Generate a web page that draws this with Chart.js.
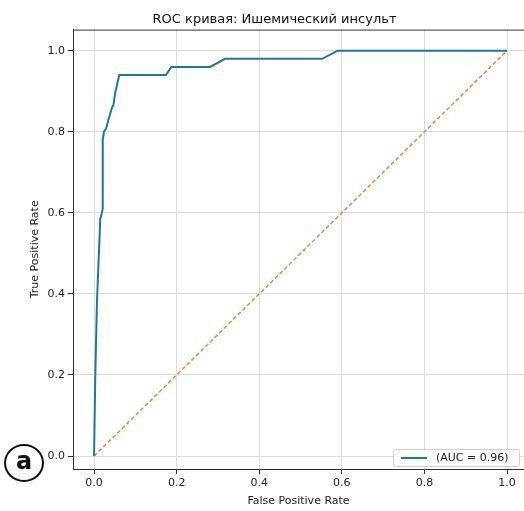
<!DOCTYPE html>
<html>
<head>
<meta charset="utf-8">
<script src="https://cdn.jsdelivr.net/npm/chart.js@4.4.1/dist/chart.umd.min.js"></script>
<style>
  html, body { margin: 0; padding: 0; background: #fff; overflow: hidden; }
  #wrap { position: relative; width: 524px; height: 511px; }
  #panel {
    position: absolute; left: 4px; top: 444px; width: 36px; height: 34px;
    border: 2px solid #111; border-radius: 50%;
    font: bold 24px "DejaVu Sans", sans-serif; color: #111;
    text-align: center; line-height: 30px;
  }
</style>
</head>
<body>
<div id="wrap">
  <canvas id="roc" width="524" height="511"></canvas>
  <div id="panel">a</div>
</div>
<script>
// ROC кривая, значения
const fpr = [0, 0.003, 0.007, 0.015, 0.019, 0.021, 0.021, 0.024, 0.029, 0.035, 0.043, 0.047, 0.051, 0.061, 0.174, 0.187, 0.281, 0.317, 0.552, 0.59, 1.0];
const tpr = [0, 0.2, 0.38, 0.585, 0.6, 0.61, 0.78, 0.8, 0.807, 0.83, 0.858, 0.867, 0.895, 0.94, 0.94, 0.96, 0.96, 0.98, 0.98, 1.0, 1.0];
const diagX = [0, 1];
const diagY = [0, 1];
const xTicks = [0, 0.2, 0.4, 0.6, 0.8, 1.0];
const yTicks = [0, 0.2, 0.4, 0.6, 0.8, 1.0];
const aucLabel = '(AUC = 0.96)';

const font = '"DejaVu Sans", sans-serif';

// рамка сверху, как у matplotlib
const topSpine = {
    id: 'topSpine',
    afterDraw(chart) {
        const { ctx, chartArea } = chart;
        ctx.save();
        ctx.strokeStyle = '#333';
        ctx.lineWidth = 1;
        ctx.beginPath();
        ctx.moveTo(chartArea.left, chartArea.top + 0.5);
        ctx.lineTo(chartArea.right, chartArea.top + 0.5);
        ctx.stroke();
        ctx.restore();
    }
};

// легенда внутри области графика, справа снизу
const boxLegend = {
    id: 'boxLegend',
    afterDraw(chart) {
        const { ctx, chartArea } = chart;
        const ds = chart.data.datasets[0];
        const w = 126, h = 17;
        const x = chartArea.right - 5 - w;
        const y = chartArea.bottom - 3 - h;
        ctx.save();
        ctx.fillStyle = 'rgba(255,255,255,0.85)';
        ctx.strokeStyle = '#d0d0d0';
        ctx.lineWidth = 1;
        ctx.beginPath();
        ctx.roundRect(x + 0.5, y + 0.5, w, h, 2);
        ctx.fill();
        ctx.stroke();
        ctx.strokeStyle = ds.borderColor;
        ctx.lineWidth = 2;
        ctx.beginPath();
        ctx.moveTo(x + 8, y + h / 2 + 0.5);
        ctx.lineTo(x + 34, y + h / 2 + 0.5);
        ctx.stroke();
        ctx.fillStyle = '#222';
        ctx.font = '11px ' + font;
        ctx.textBaseline = 'middle';
        ctx.fillText(ds.label, x + 43, y + h / 2 + 1);
        ctx.restore();
    }
};

new Chart(document.getElementById('roc'), {
    type: 'scatter',
    data: {
        datasets: [
            {
                label: aucLabel,
                data: fpr.map((v, i) => ({ x: v, y: tpr[i] })),
                showLine: true,
                borderColor: '#1f7896',
                borderWidth: 2,
                pointRadius: 0,
                tension: 0
            },
            {
                label: '',
                data: diagX.map((v, i) => ({ x: v, y: diagY[i] })),
                showLine: true,
                borderColor: '#f08a3a',
                borderWidth: 1.6,
                borderDash: [4, 2.5],
                pointRadius: 0
            }
        ]
    },
    options: {
        responsive: false,
        animation: false,
        layout: { padding: { left: 25, right: 0, top: 0, bottom: 0 } },
        plugins: {
            legend: { display: false },
            tooltip: { enabled: false },
            title: {
                display: true,
                text: 'ROC кривая: Ишемический инсульт',
                color: '#111',
                font: { family: font, size: 13, weight: 'normal' },
                padding: { top: 12, bottom: 2 }
            }
        },
        scales: {
            x: {
                type: 'linear',
                min: -0.051,
                max: 1.041,
                afterBuildTicks: s => { s.ticks = xTicks.map(v => ({ value: v })); },
                afterFit: s => { s.height = 42; },
                ticks: {
                    color: '#222',
                    font: { family: font, size: 11 },
                    padding: 3,
                    maxRotation: 0,
                    callback: v => v.toFixed(1)
                },
                grid: { color: '#dcdcdc', lineWidth: 1, tickLength: 5, tickColor: '#333' },
                border: { color: '#333', width: 1 },
                title: {
                    display: true,
                    text: 'False Positive Rate',
                    color: '#222',
                    font: { family: font, size: 11 },
                    padding: { top: 2, bottom: 3 }
                }
            },
            y: {
                type: 'linear',
                min: -0.032,
                max: 1.052,
                afterBuildTicks: s => { s.ticks = yTicks.map(v => ({ value: v })); },
                afterFit: s => { s.width = 48; },
                ticks: {
                    color: '#222',
                    font: { family: font, size: 11 },
                    padding: 3,
                    callback: v => v.toFixed(1)
                },
                grid: { color: '#dcdcdc', lineWidth: 1, tickLength: 5, tickColor: '#333' },
                border: { color: '#333', width: 1 },
                title: {
                    display: true,
                    text: 'True Positive Rate',
                    color: '#222',
                    font: { family: font, size: 11 },
                    padding: { top: 4, bottom: 4 }
                }
            }
        }
    },
    plugins: [topSpine, boxLegend]
});
</script>
</body>
</html>
